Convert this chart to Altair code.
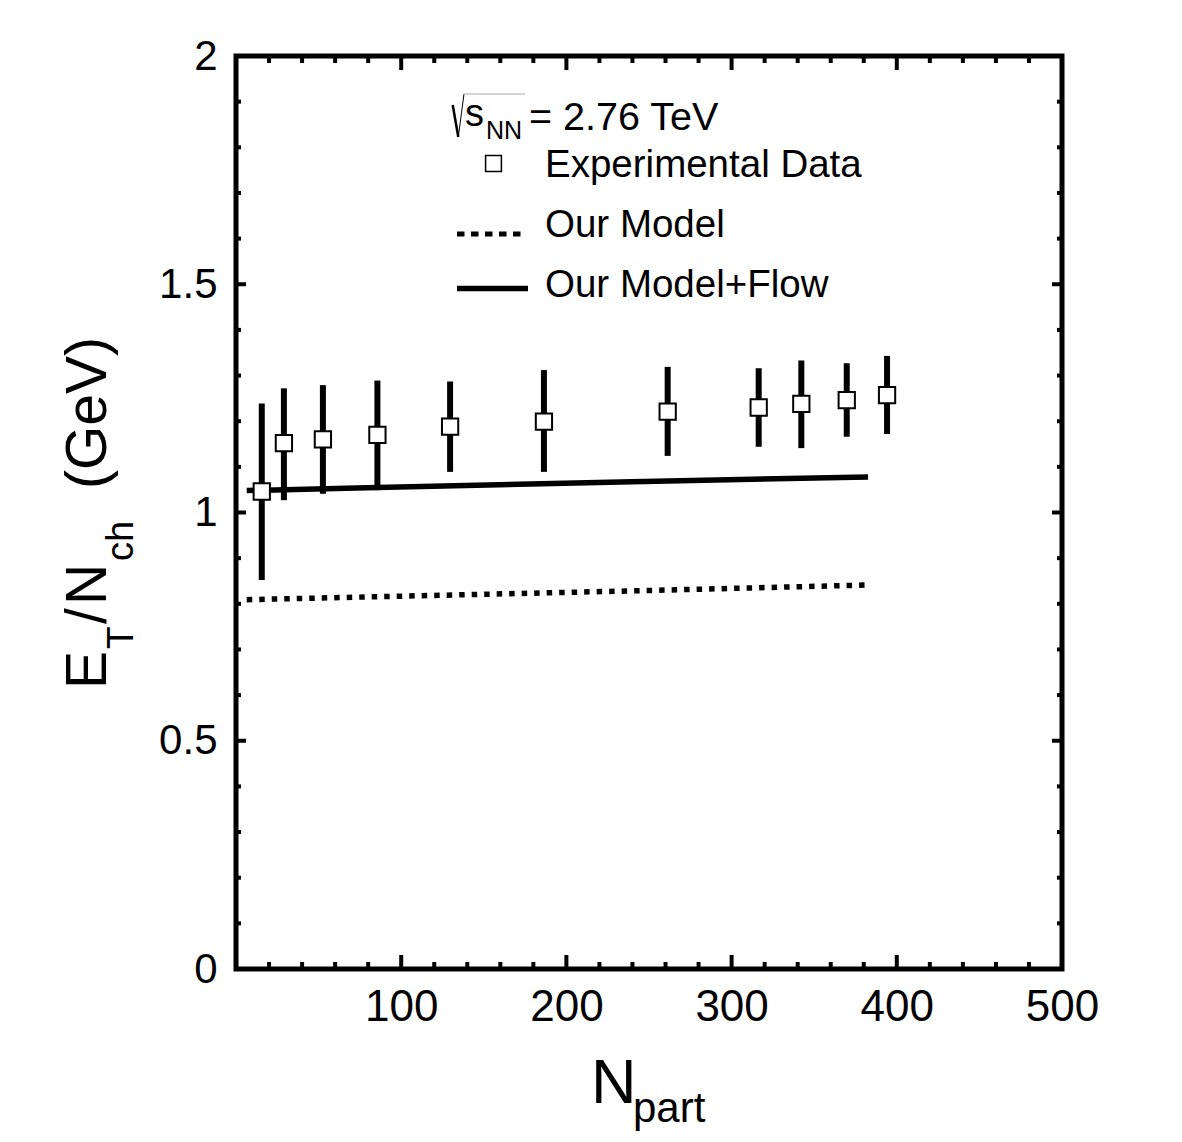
import altair as alt
import pandas as pd

# ---------------- data ----------------
npart = [15.6, 29.0, 52.6, 85.6, 129.6, 186.4, 261.3, 316.4, 342.2, 369.7, 394.1]
et_nch = [1.046, 1.152, 1.160, 1.170, 1.188, 1.199, 1.221, 1.230, 1.238, 1.246, 1.257]
err_lo = [0.852, 1.027, 1.041, 1.049, 1.089, 1.089, 1.124, 1.144, 1.141, 1.166, 1.172]
err_hi = [1.239, 1.272, 1.279, 1.289, 1.287, 1.312, 1.319, 1.316, 1.333, 1.327, 1.343]

model_n = [6.5, 236.6, 381.0]
model_v = [0.809, 0.828, 0.841]
flow_n = [6.5, 85.6, 232.6, 382.6]
flow_v = [1.048, 1.055, 1.067, 1.078]

x_labels = [100, 200, 300, 400, 500]
y_labels = [0, 0.5, 1, 1.5, 2]
x_major = [0, 100, 200, 300, 400, 500]
x_minor = [20, 40, 60, 80, 120, 140, 160, 180, 220, 240, 260, 280,
           320, 340, 360, 380, 420, 440, 460, 480]
y_major = [0, 0.5, 1, 1.5, 2]
y_minor = [0.1, 0.2, 0.3, 0.4, 0.6, 0.7, 0.8, 0.9, 1.1, 1.2, 1.3, 1.4,
           1.6, 1.7, 1.8, 1.9]

legend_labels = ["Experimental Data", "Our Model", "Our Model+Flow"]
energy_parts = ["s", "NN", "= 2.76 TeV"]
y_title_parts = ["E", "T", "/", "N", "ch", "(GeV)"]
x_title_parts = ["N", "part"]

# ---------------- layout ----------------
W, H = 826, 913
FONT = "Liberation Sans"

XS = alt.Scale(domain=[0, 500], nice=False, zero=False)
YS = alt.Scale(domain=[0, 2], nice=False, zero=False)
AX = alt.Axis(values=x_labels, format="d", title=None, domain=False, ticks=False,
              tickSize=0, grid=False, labelFontSize=44, labelFont=FONT,
              labelColor="black", labelPadding=16, labelFlush=False)
AY = alt.Axis(values=y_labels, format="~g", title=None, domain=False, ticks=False,
              tickSize=0, grid=False, labelFontSize=42, labelFont=FONT,
              labelColor="black", labelPadding=19, labelFlush=False)


def X(f):
    return alt.X(f, type="quantitative", scale=XS, axis=AX, title=None)


def Y(f):
    return alt.Y(f, type="quantitative", scale=YS, axis=AY, title=None)


data = pd.DataFrame({"n": npart, "v": et_nch, "lo": err_lo, "hi": err_hi})
model_df = pd.DataFrame({"n": model_n, "v": model_v})
flow_df = pd.DataFrame({"n": flow_n, "v": flow_v})

layers = []

# inward ticks on all four sides
for vals, ln in ((x_major, 14), (x_minor, 7)):
    d = pd.DataFrame({"n": vals})
    layers.append(alt.Chart(d).mark_rule(color="black", strokeWidth=4).encode(
        x=X("n"), y=alt.value(H), y2=alt.value(H - ln)))
    layers.append(alt.Chart(d).mark_rule(color="black", strokeWidth=4).encode(
        x=X("n"), y=alt.value(0), y2=alt.value(ln)))
for vals, ln in ((y_major, 10), (y_minor, 5)):
    d = pd.DataFrame({"v": vals})
    layers.append(alt.Chart(d).mark_rule(color="black", strokeWidth=4).encode(
        y=Y("v"), x=alt.value(0), x2=alt.value(ln)))
    layers.append(alt.Chart(d).mark_rule(color="black", strokeWidth=4).encode(
        y=Y("v"), x=alt.value(W), x2=alt.value(W - ln)))

# model curves
layers.append(alt.Chart(model_df).mark_line(color="black", strokeWidth=5.5,
                                            strokeDash=[5.5, 7], strokeCap="butt").encode(
    x=X("n"), y=Y("v")))
layers.append(alt.Chart(flow_df).mark_line(color="black", strokeWidth=5.5,
                                           strokeCap="butt").encode(
    x=X("n"), y=Y("v")))

# error bars and points
layers.append(alt.Chart(data).mark_rule(color="black", strokeWidth=6).encode(
    x=X("n"), y=Y("lo"), y2="hi"))
layers.append(alt.Chart(data).mark_point(shape="square", size=265, filled=True,
                                         fill="white", stroke="black",
                                         strokeWidth=2, opacity=1).encode(
    x=X("n"), y=Y("v")))


def txt(s, x, y, size, angle=0):
    return alt.Chart(pd.DataFrame({"t": [s]})).mark_text(
        align="left", baseline="alphabetic", font=FONT, fontSize=size,
        angle=angle, color="black").encode(
        x=alt.value(x), y=alt.value(y), text="t:N")


one = pd.DataFrame({"a": [0]})

# legend
layers.append(alt.Chart(one).mark_rule(color="black", strokeWidth=2.5).encode(
    x=alt.value(216.7), y=alt.value(49), x2=alt.value(222.3), y2=alt.value(81)))
layers.append(alt.Chart(one).mark_rule(color="black", strokeWidth=1).encode(
    x=alt.value(222.3), y=alt.value(81), x2=alt.value(228), y2=alt.value(38)))
layers.append(alt.Chart(one).mark_rule(color="#aaaaaa", strokeWidth=1).encode(
    x=alt.value(228), x2=alt.value(289), y=alt.value(38)))
layers.append(txt(energy_parts[0], 229, 70, 38))
layers.append(txt(energy_parts[1], 250, 83, 25))
layers.append(txt(energy_parts[2], 293, 74, 39.5))

layers.append(alt.Chart(one).mark_point(shape="square", size=250, filled=True,
                                        fill="white", stroke="black",
                                        strokeWidth=1.5, opacity=1).encode(
    x=alt.value(257.5), y=alt.value(107.5)))
layers.append(alt.Chart(one).mark_rule(color="black", strokeWidth=5,
                                       strokeDash=[7.5, 6.5]).encode(
    x=alt.value(221), x2=alt.value(291), y=alt.value(178)))
layers.append(alt.Chart(one).mark_rule(color="black", strokeWidth=5.5).encode(
    x=alt.value(221), x2=alt.value(292), y=alt.value(232.5)))
layers.append(txt(legend_labels[0], 309, 121, 38.5))
layers.append(txt(legend_labels[1], 309, 180.5, 38.5))
layers.append(txt(legend_labels[2], 309, 240.5, 38.5))

# y title (rotated, with subscripts)
layers.append(txt(y_title_parts[0], -130, 633, 57, 270))
layers.append(txt(y_title_parts[1], -103, 593, 37, 270))
layers.append(txt(y_title_parts[2], -130, 568, 57, 270))
layers.append(txt(y_title_parts[3], -130, 549, 57, 270))
layers.append(txt(y_title_parts[4], -103, 505, 38, 270))
layers.append(txt(y_title_parts[5], -130, 433, 57, 270))

# x title
layers.append(txt(x_title_parts[0], 355, 1047, 63))
layers.append(txt(x_title_parts[1], 397, 1066, 42))

chart = alt.layer(*layers).properties(
    width=W, height=H,
    autosize=alt.AutoSizeParams(type="none"),
    padding={"left": 236, "top": 56, "right": 120, "bottom": 173},
    background="white",
).configure_view(stroke="black", strokeWidth=5)

chart.save("out.html", embed_options={"renderer": "svg", "actions": False})
